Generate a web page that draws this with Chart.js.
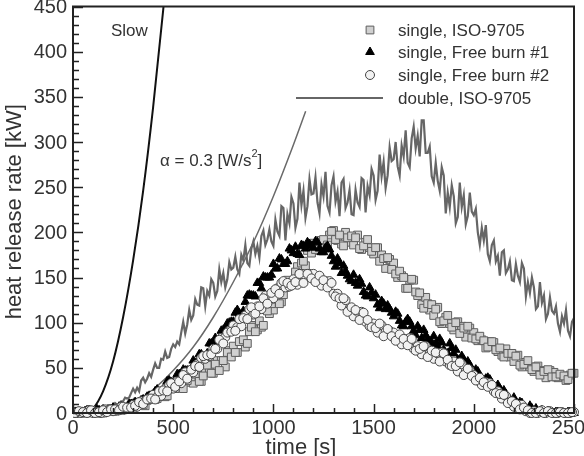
<!DOCTYPE html>
<html>
<head>
<meta charset="utf-8">
<script src="https://cdn.jsdelivr.net/npm/chart.js@4.4.1/dist/chart.umd.min.js"></script>
<style>
  html, body { margin: 0; padding: 0; background: #fff; }
  #wrap { width: 584px; height: 456px; }
</style>
</head>
<body>
<div id="wrap"><canvas id="grafico" width="584" height="456"></canvas></div>
<script>
// time axis of the single-item measurements [s] (two interleaved logs)
var time = [
    0, 20, 40, 60, 80, 100, 120, 140, 160, 180, 200, 220, 240, 260, 280, 300, 320, 340, 360, 380,
    400, 420, 440, 460, 480, 500, 520, 540, 560, 580, 600, 620, 640, 660, 680, 700, 720, 740, 760, 780,
    800, 820, 840, 860, 880, 900, 920, 940, 960, 980, 1000, 1020, 1040, 1060, 1080, 1100, 1120, 1140, 1160, 1180,
    1200, 1220, 1240, 1260, 1280, 1300, 1320, 1340, 1360, 1380, 1400, 1420, 1440, 1460, 1480, 1500, 1520, 1540, 1560, 1580,
    1600, 1620, 1640, 1660, 1680, 1700, 1720, 1740, 1760, 1780, 1800, 1820, 1840, 1860, 1880, 1900, 1920, 1940, 1960, 1980,
    2000, 2020, 2040, 2060, 2080, 2100, 2120, 2140, 2160, 2180, 2200, 2220, 2240, 2260, 2280, 2300, 2320, 2340, 2360, 2380,
    2400, 2420, 2440, 2460, 2480, 2500
];
var timeB = [
    10, 30, 50, 70, 90, 110, 130, 150, 170, 190, 210, 230, 250, 270, 290, 310, 330, 350, 370, 390,
    410, 430, 450, 470, 490, 510, 530, 550, 570, 590, 610, 630, 650, 670, 690, 710, 730, 750, 770, 790,
    810, 830, 850, 870, 890, 910, 930, 950, 970, 990, 1010, 1030, 1050, 1070, 1090, 1110, 1130, 1150, 1170, 1190,
    1210, 1230, 1250, 1270, 1290, 1310, 1330, 1350, 1370, 1390, 1410, 1430, 1450, 1470, 1490, 1510, 1530, 1550, 1570, 1590,
    1610, 1630, 1650, 1670, 1690, 1710, 1730, 1750, 1770, 1790, 1810, 1830, 1850, 1870, 1890, 1910, 1930, 1950, 1970, 1990,
    2010, 2030, 2050, 2070, 2090, 2110, 2130, 2150, 2170, 2190, 2210, 2230, 2250, 2270, 2290, 2310, 2330, 2350, 2370, 2390,
    2410, 2430, 2450, 2470, 2490
];

// heat release rate [kW]
var singleISO = [
    1, 0, 0, 0, 2, 2, 0, 0, 4, 2, 2, 5, 3, 6, 6, 5, 12, 12, 8, 17,
    19, 16, 21, 18, 27, 31, 28, 28, 37, 34, 33, 48, 35, 48, 46, 44, 58, 58, 51, 69,
    74, 67, 79, 73, 90, 97, 92, 95, 115, 110, 114, 132, 123, 139, 142, 144, 162, 166, 163, 183,
    188, 180, 190, 183, 197, 202, 191, 187, 200, 189, 186, 197, 181, 189, 183, 176, 183, 175, 160, 170,
    166, 150, 152, 138, 147, 147, 130, 120, 128, 114, 108, 117, 99, 106, 99, 92, 101, 96, 84, 94,
    89, 80, 81, 72, 79, 78, 68, 64, 71, 62, 57, 64, 51, 56, 51, 46, 52, 47, 39, 47,
    45, 39, 41, 36, 42, 44
];
var singleISO_B = [
    0, 2, 1, 0, 3, 0, 2, 0, 3, 5, 2, 5, 5, 4, 9, 8, 11, 9, 14, 17,
    15, 23, 22, 19, 31, 27, 33, 27, 36, 40, 43, 35, 41, 53, 44, 54, 47, 58, 67, 62,
    67, 79, 81, 77, 95, 90, 102, 97, 113, 121, 126, 121, 131, 147, 142, 156, 153, 168, 180, 177,
    181, 191, 192, 186, 201, 192, 197, 185, 194, 196, 194, 182, 185, 192, 179, 183, 168, 171, 172, 159,
    154, 157, 150, 138, 148, 134, 133, 116, 121, 120, 115, 101, 102, 108, 95, 100, 88, 94, 96, 83,
    82, 85, 80, 73, 79, 70, 72, 62, 66, 66, 63, 53, 54, 58, 48, 51, 42, 46, 48, 40,
    40, 43, 41, 37, 44
];
var freeBurn1 = [
    0, 1, 0, 2, 3, 0, 4, 1, 3, 2, 6, 4, 7, 5, 10, 10, 10, 14, 14, 19,
    18, 26, 22, 30, 36, 34, 43, 39, 47, 47, 58, 56, 65, 63, 77, 76, 79, 91, 92, 100,
    101, 114, 109, 123, 131, 130, 144, 138, 150, 150, 165, 160, 170, 165, 182, 177, 176, 186, 182, 187,
    183, 189, 178, 183, 181, 168, 171, 155, 157, 148, 153, 141, 143, 130, 139, 127, 120, 124, 115, 115,
    107, 110, 97, 101, 101, 91, 96, 83, 86, 79, 85, 74, 78, 66, 77, 66, 59, 63, 53, 53,
    45, 46, 37, 38, 37, 29, 31, 20, 21, 15, 17, 9, 11, 2, 8, 2, 0, 3, 0, 1,
    0, 1, 0, 0, 1, 0
];
var freeBurn1_B = [
    1, 0, 0, 3, 1, 0, 3, 4, 2, 2, 4, 7, 5, 6, 10, 12, 10, 15, 18, 19,
    24, 22, 24, 35, 34, 33, 43, 48, 47, 49, 55, 65, 62, 66, 77, 83, 81, 92, 99, 101,
    111, 110, 113, 130, 130, 129, 144, 151, 150, 153, 160, 171, 165, 168, 180, 184, 175, 185, 189, 185,
    190, 182, 178, 185, 174, 162, 166, 163, 152, 146, 144, 148, 134, 129, 133, 131, 116, 121, 119, 111,
    112, 102, 96, 104, 96, 86, 92, 92, 82, 78, 77, 82, 70, 66, 72, 70, 55, 59, 57, 48,
    48, 41, 36, 39, 33, 25, 27, 25, 17, 13, 12, 12, 6, 3, 5, 5, 0, 1, 2, 0,
    1, 0, 0, 1, 0
];
var freeBurn2 = [
    1, 0, 0, 1, 3, 0, 1, 0, 4, 3, 2, 5, 7, 4, 5, 9, 7, 13, 13, 16,
    20, 18, 19, 27, 31, 27, 35, 33, 45, 43, 45, 54, 61, 60, 63, 71, 71, 83, 84, 91,
    97, 95, 96, 108, 115, 109, 118, 115, 130, 127, 127, 138, 144, 139, 140, 148, 142, 154, 150, 154,
    154, 146, 141, 146, 146, 132, 132, 119, 125, 115, 107, 112, 112, 101, 96, 99, 89, 97, 90, 91,
    89, 81, 76, 82, 83, 71, 74, 65, 74, 66, 60, 66, 67, 57, 53, 57, 46, 54, 46, 47,
    42, 36, 31, 34, 33, 24, 24, 16, 19, 12, 7, 9, 9, 2, 0, 2, 0, 3, 0, 2,
    0, 0, 1, 0, 0, 1
];
var freeBurn2_B = [
    0, 2, 1, 0, 3, 0, 1, 3, 1, 4, 4, 3, 7, 6, 6, 8, 12, 10, 15, 16,
    15, 24, 25, 24, 33, 29, 35, 42, 38, 48, 52, 51, 63, 64, 65, 71, 81, 77, 89, 90,
    91, 104, 105, 104, 117, 110, 118, 127, 121, 133, 137, 132, 146, 144, 141, 145, 154, 144, 154, 149,
    145, 152, 147, 139, 144, 129, 127, 127, 112, 117, 114, 103, 111, 103, 95, 94, 99, 85, 93, 85,
    80, 87, 82, 75, 82, 69, 71, 74, 62, 69, 67, 57, 66, 59, 52, 52, 56, 42, 49, 41,
    36, 39, 34, 29, 31, 22, 21, 20, 11, 13, 10, 4, 6, 3, 0, 0, 2, 0, 2, 0,
    0, 1, 0, 0, 1
];

// double item test, logged every 10 s
var doubleTime = [
    0, 10, 20, 30, 40, 50, 60, 70, 80, 90, 100, 110, 120, 130, 140, 150, 160, 170, 180, 190,
    200, 210, 220, 230, 240, 250, 260, 270, 280, 290, 300, 310, 320, 330, 340, 350, 360, 370, 380, 390,
    400, 410, 420, 430, 440, 450, 460, 470, 480, 490, 500, 510, 520, 530, 540, 550, 560, 570, 580, 590,
    600, 610, 620, 630, 640, 650, 660, 670, 680, 690, 700, 710, 720, 730, 740, 750, 760, 770, 780, 790,
    800, 810, 820, 830, 840, 850, 860, 870, 880, 890, 900, 910, 920, 930, 940, 950, 960, 970, 980, 990,
    1000, 1010, 1020, 1030, 1040, 1050, 1060, 1070, 1080, 1090, 1100, 1110, 1120, 1130, 1140, 1150, 1160, 1170, 1180, 1190,
    1200, 1210, 1220, 1230, 1240, 1250, 1260, 1270, 1280, 1290, 1300, 1310, 1320, 1330, 1340, 1350, 1360, 1370, 1380, 1390,
    1400, 1410, 1420, 1430, 1440, 1450, 1460, 1470, 1480, 1490, 1500, 1510, 1520, 1530, 1540, 1550, 1560, 1570, 1580, 1590,
    1600, 1610, 1620, 1630, 1640, 1650, 1660, 1670, 1680, 1690, 1700, 1710, 1720, 1730, 1740, 1750, 1760, 1770, 1780, 1790,
    1800, 1810, 1820, 1830, 1840, 1850, 1860, 1870, 1880, 1890, 1900, 1910, 1920, 1930, 1940, 1950, 1960, 1970, 1980, 1990,
    2000, 2010, 2020, 2030, 2040, 2050, 2060, 2070, 2080, 2090, 2100, 2110, 2120, 2130, 2140, 2150, 2160, 2170, 2180, 2190,
    2200, 2210, 2220, 2230, 2240, 2250, 2260, 2270, 2280, 2290, 2300, 2310, 2320, 2330, 2340, 2350, 2360, 2370, 2380, 2390,
    2400, 2410, 2420, 2430, 2440, 2450, 2460, 2470, 2480, 2490, 2500
];
var doubleISO = [
    0, 1, 0, 0, 2, 1, 2, 1, 1, 2, 3, 2, 3, 3, 5, 5, 5, 5, 6, 6,
    8, 11, 9, 9, 13, 13, 17, 16, 17, 22, 27, 23, 28, 24, 36, 39, 34, 38, 44, 40,
    48, 55, 50, 50, 60, 59, 68, 61, 62, 71, 76, 73, 79, 76, 89, 101, 88, 98, 114, 103,
    108, 126, 120, 119, 139, 138, 118, 135, 130, 148, 144, 129, 135, 159, 145, 155, 139, 148, 167, 159,
    161, 173, 159, 154, 175, 169, 186, 166, 163, 182, 190, 176, 185, 172, 196, 202, 186, 192, 203, 190,
    185, 214, 201, 196, 229, 227, 191, 220, 210, 239, 232, 205, 215, 255, 230, 246, 216, 229, 259, 242,
    243, 261, 233, 221, 253, 240, 267, 229, 222, 252, 262, 234, 245, 218, 255, 259, 227, 233, 247, 220,
    219, 247, 233, 228, 260, 258, 222, 251, 241, 270, 263, 236, 246, 286, 262, 278, 249, 263, 294, 279,
    281, 300, 273, 263, 296, 284, 313, 277, 272, 304, 317, 293, 307, 284, 324, 324, 288, 288, 295, 262,
    255, 277, 257, 246, 272, 263, 221, 244, 228, 252, 240, 210, 217, 255, 228, 241, 209, 218, 244, 223,
    219, 226, 200, 186, 205, 191, 208, 176, 168, 186, 191, 168, 174, 152, 178, 180, 155, 159, 168, 147,
    146, 165, 152, 145, 166, 160, 129, 145, 133, 150, 139, 115, 118, 145, 122, 130, 104, 110, 128, 113,
    110, 118, 99, 90, 107, 99, 114, 91, 85, 101, 105
];

// design fire curves
var slowTime = [0, 60, 100, 150, 200, 250, 300, 350, 400, 450, 470];
var slowHRR  = [0, 0, 5, 24, 57, 106, 169, 246, 339, 446, 495];
var alphaTime = [106, 200, 300, 400, 500, 600, 700, 800, 900, 1000, 1100, 1161];
var alphaHRR  = [0, 3, 11, 26, 47, 73, 106, 145, 189, 240, 297, 334];

var xTicks = [0, 500, 1000, 1500, 2000, 2500];
var yTicks = [0, 50, 100, 150, 200, 250, 300, 350, 400, 450];

var legendLabels = ['single, ISO-9705', 'single, Free burn #1', 'single, Free burn #2', 'double, ISO-9705'];

function pares(xs, ys) {
    return xs.map(function(x, i) { return { x: x, y: ys[i] }; });
}

var FONTE = '"Liberation Sans", Arial, sans-serif';
var TEXTO = '#333';

var marcadorClip = { left: 0, top: 0, right: 5, bottom: 6 };

var eixosPlugin = {
    id: 'eixos',
    afterDatasetsDraw: function(chart) {
        var ctx = chart.ctx;
        var a = chart.chartArea;
        var xs = chart.scales.x, ys = chart.scales.y;
        ctx.save();
        // frame
        ctx.strokeStyle = '#222';
        ctx.lineWidth = 2;
        ctx.strokeRect(a.left, a.top, a.right - a.left, a.bottom - a.top);
        // inward ticks
        ctx.lineWidth = 1.5;
        ctx.beginPath();
        for (var t = 0; t <= 2500; t += 100) {
            var px = Math.round(xs.getPixelForValue(t)) + 0.5;
            var len = (t % 500 === 0) ? 9 : 5;
            ctx.moveTo(px, a.bottom);
            ctx.lineTo(px, a.bottom - len);
        }
        for (var q = 0; q <= 450; q += 10) {
            var py = Math.round(ys.getPixelForValue(q)) + 0.5;
            var l2 = (q % 50 === 0) ? 10 : 6;
            ctx.moveTo(a.left, py);
            ctx.lineTo(a.left + l2, py);
        }
        ctx.stroke();
        // tick labels
        ctx.fillStyle = TEXTO;
        ctx.font = '20px ' + FONTE;
        ctx.textAlign = 'right';
        ctx.textBaseline = 'middle';
        yTicks.forEach(function(v) {
            ctx.fillText(String(v), a.left - 6, ys.getPixelForValue(v) + 1);
        });
        ctx.textAlign = 'center';
        ctx.textBaseline = 'top';
        xTicks.forEach(function(v) {
            ctx.fillText(String(v), xs.getPixelForValue(v), a.bottom + 5);
        });
        // axis titles
        ctx.font = '22px ' + FONTE;
        ctx.textBaseline = 'middle';
        ctx.fillText('time [s]', 301, a.bottom + 35);
        ctx.save();
        ctx.translate(15, (a.top + a.bottom) / 2 + 2);
        ctx.rotate(-Math.PI / 2);
        ctx.fillText('heat release rate [kW]', 0, 0);
        ctx.restore();
        // annotations
        ctx.font = '17px ' + FONTE;
        ctx.textAlign = 'left';
        ctx.fillText('Slow', 111, 31);
        ctx.fillText('\u03b1 = 0.3 [W/s', 160, 161);
        var w = ctx.measureText('\u03b1 = 0.3 [W/s').width;
        ctx.font = '11px ' + FONTE;
        ctx.fillText('2', 160 + w, 154);
        ctx.font = '17px ' + FONTE;
        ctx.fillText(']', 160 + w + 6, 161);
        // legend
        var ds = chart.data.datasets;
        var linhas = [30, 52, 75, 98];
        for (var i = 0; i < 3; i++) {
            var d = ds[i];
            ctx.fillStyle = d.pointBackgroundColor;
            ctx.strokeStyle = d.pointBorderColor;
            ctx.lineWidth = d.pointBorderWidth;
            Chart.helpers.drawPoint(ctx, { pointStyle: d.pointStyle, radius: d.pointRadius, rotation: 0, borderWidth: d.pointBorderWidth }, 370, linhas[i]);
        }
        ctx.strokeStyle = ds[3].borderColor;
        ctx.lineWidth = 2;
        ctx.beginPath();
        ctx.moveTo(296, linhas[3]);
        ctx.lineTo(383, linhas[3]);
        ctx.stroke();
        ctx.fillStyle = TEXTO;
        ctx.font = '17px ' + FONTE;
        ctx.textAlign = 'left';
        ctx.textBaseline = 'middle';
        legendLabels.forEach(function(txt, k) {
            ctx.fillText(txt, 398, linhas[k] + 1);
        });
        ctx.restore();
    }
};

var configHRR = {
    type: 'line',
    data: {
        datasets: [{
            label: legendLabels[0],
            data: pares(time, singleISO).concat(pares(timeB, singleISO_B)),
            showLine: false,
            pointStyle: 'rect',
            pointRadius: 5.5,
            pointBackgroundColor: '#d0d0d0',
            pointBorderColor: '#5e5e5e',
            pointBorderWidth: 1,
            clip: marcadorClip,
            order: 4
        }, {
            label: legendLabels[1],
            data: pares(time, freeBurn1).concat(pares(timeB, freeBurn1_B)),
            showLine: false,
            pointStyle: 'triangle',
            pointRadius: 5,
            pointBackgroundColor: '#000',
            pointBorderColor: '#000',
            pointBorderWidth: 1,
            clip: marcadorClip,
            order: 3
        }, {
            label: legendLabels[2],
            data: pares(time, freeBurn2).concat(pares(timeB, freeBurn2_B)),
            showLine: false,
            pointStyle: 'circle',
            pointRadius: 4.5,
            pointBackgroundColor: '#f2f2f2',
            pointBorderColor: '#444',
            pointBorderWidth: 1,
            clip: marcadorClip,
            order: 2
        }, {
            label: legendLabels[3],
            data: pares(doubleTime, doubleISO),
            borderColor: '#666',
            borderWidth: 2.2,
            pointRadius: 0,
            tension: 0,
            order: 6
        }, {
            label: 'Slow',
            data: pares(slowTime, slowHRR),
            borderColor: '#111',
            borderWidth: 2,
            pointRadius: 0,
            cubicInterpolationMode: 'monotone',
            order: 7
        }, {
            // alpha = 0.3 curve sits under the measured points
            label: 'alpha',
            data: pares(alphaTime, alphaHRR),
            borderColor: '#6a6a6a',
            borderWidth: 1.5,
            pointRadius: 0,
            cubicInterpolationMode: 'monotone',
            order: 5
        }]
    },
    options: {
        responsive: false,
        animation: false,
        events: [],
        layout: {
            padding: { left: 73, top: 6, right: 10, bottom: 43 }
        },
        plugins: {
            legend: { display: false },
            tooltip: { enabled: false },
            title: { display: false }
        },
        scales: {
            x: { type: 'linear', min: 0, max: 2500, display: false },
            y: { type: 'linear', min: 0, max: 450, display: false }
        }
    },
    plugins: [eixosPlugin]
};

window.onload = function() {
    var ctx = document.getElementById('grafico').getContext('2d');
    window.graficoHRR = new Chart(ctx, configHRR);
};
</script>
</body>
</html>
